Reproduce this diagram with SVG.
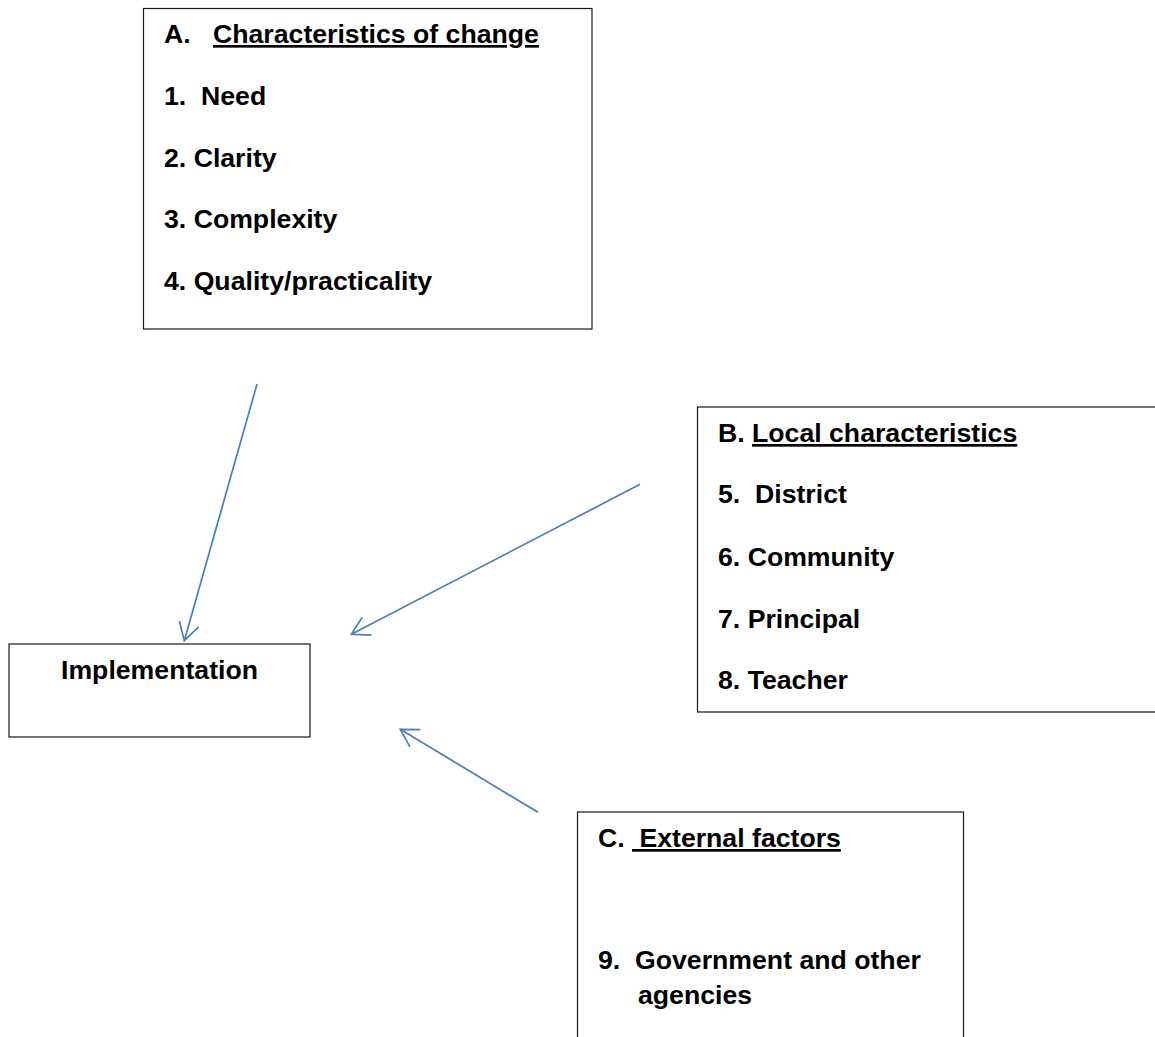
<svg xmlns="http://www.w3.org/2000/svg" width="1155" height="1037" viewBox="0 0 1155 1037">
  <style>
    .box { fill: #ffffff; stroke: #1a1a1a; stroke-width: 1.2; }
    .t { font-family: "Liberation Sans", Arial, sans-serif; font-weight: bold; font-size: 26.67px; fill: #000000; }
    .u { text-decoration: underline; }
    .conn { stroke: #4a7ebb; stroke-width: 1.7; fill: none; }
  </style>
  <defs>
    <marker id="arrow" markerUnits="userSpaceOnUse" markerWidth="24" markerHeight="24" viewBox="-20 -12 22 24" refX="0" refY="0" orient="auto">
      <path d="M -17.3 -10 L 0 0 L -17.3 10" fill="none" stroke="#4a7ebb" stroke-width="1.7"/>
    </marker>
  </defs>
  <rect width="1155" height="1037" fill="#ffffff"/>

  <g id="node-A">
    <rect class="box" x="143.5" y="8.5" width="448.5" height="320.5"/>
    <text class="t" x="164" y="43">A.</text>
    <text class="t u" x="213" y="43">Characteristics of change</text>
    <text class="t" x="164" y="105">1.</text>
    <text class="t" x="201" y="105">Need</text>
    <text class="t" x="164" y="167">2. Clarity</text>
    <text class="t" x="164" y="228">3. Complexity</text>
    <text class="t" x="164" y="290">4. Quality/practicality</text>
  </g>

  <g id="node-implementation">
    <rect class="box" x="9" y="644" width="301" height="93"/>
    <text class="t" x="159.5" y="679" text-anchor="middle">Implementation</text>
  </g>

  <g id="node-B">
    <rect class="box" x="697.5" y="407" width="470" height="305"/>
    <text class="t" x="718" y="442">B.</text>
    <text class="t u" x="752" y="442">Local characteristics</text>
    <text class="t" x="718" y="503">5.</text>
    <text class="t" x="755" y="503">District</text>
    <text class="t" x="718" y="565.5">6. Community</text>
    <text class="t" x="718" y="627.5">7. Principal</text>
    <text class="t" x="718" y="689">8. Teacher</text>
  </g>

  <g id="node-C">
    <rect class="box" x="577.5" y="812" width="386" height="240"/>
    <text class="t" x="598" y="847">C.</text>
    <text class="t u" x="632" y="847">&#160;External factors</text>
    <text class="t" x="598" y="969">9.</text>
    <text class="t" x="635" y="969">Government and other</text>
    <text class="t" x="638" y="1004">agencies</text>
  </g>

  <g id="connectors">
    <line class="conn" x1="257" y1="384" x2="184.3" y2="640.7" marker-end="url(#arrow)"/>
    <line class="conn" x1="640" y1="484.3" x2="351.4" y2="634.3" marker-end="url(#arrow)"/>
    <line class="conn" x1="538" y1="812.3" x2="400.3" y2="729.3" marker-end="url(#arrow)"/>
  </g>
</svg>
